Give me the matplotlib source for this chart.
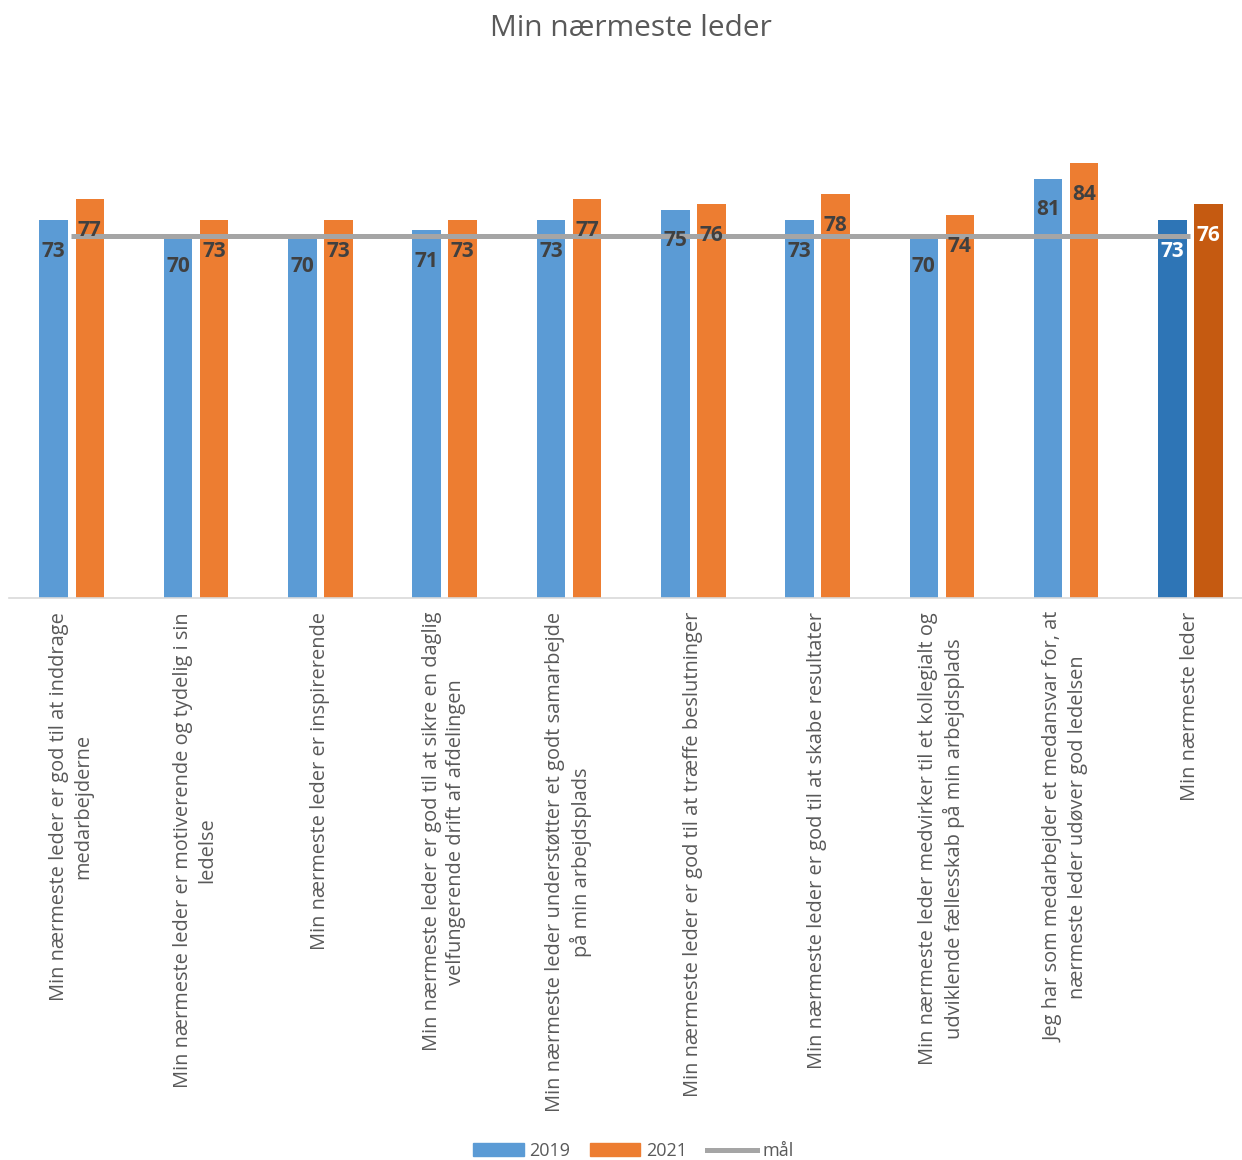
import numpy as np
import matplotlib
matplotlib.use("Agg")
import matplotlib.pyplot as plt
from matplotlib.patches import Patch
from matplotlib.lines import Line2D

plt.rcParams['font.family'] = ['Open Sans', 'DejaVu Sans']

# data
kategorier = [
    "Min nærmeste leder er god til at inddrage\nmedarbejderne",
    "Min nærmeste leder er motiverende og tydelig i sin\nledelse",
    "Min nærmeste leder er inspirerende",
    "Min nærmeste leder er god til at sikre en daglig\nvelfungerende drift af afdelingen",
    "Min nærmeste leder understøtter et godt samarbejde\npå min arbejdsplads",
    "Min nærmeste leder er god til at træffe beslutninger",
    "Min nærmeste leder er god til at skabe resultater",
    "Min nærmeste leder medvirker til et kollegialt og\nudviklende fællesskab på min arbejdsplads",
    "Jeg har som medarbejder et medansvar for, at\nnærmeste leder udøver god ledelsen",
    "Min nærmeste leder",
]
v2019 = [73, 70, 70, 71, 73, 75, 73, 70, 81, 73]
v2021 = [77, 73, 73, 73, 77, 76, 78, 74, 84, 76]
maal = [70, 70, 70, 70, 70, 70, 70, 70, 70, 70]

blaa = "#5B9BD5"
orange = "#ED7D31"
blaa_mork = "#2E75B6"
orange_mork = "#C55A11"
graa = "#A5A5A5"
tekst = "#595959"
label_farve = "#404040"

fig = plt.figure(figsize=(12.42, 11.6), dpi=100)
# plot area runs a little past the right edge, as in the original
ax = fig.add_axes([9 / 1242, (1160 - 598) / 1160, 1243 / 1242, 466 / 1160])

x = np.arange(len(kategorier))
bw = 0.23
farver_19 = [blaa] * (len(x) - 1) + [blaa_mork]
farver_21 = [orange] * (len(x) - 1) + [orange_mork]

b1 = ax.bar(x - 0.14, v2019, bw, color=farver_19, zorder=2)
b2 = ax.bar(x + 0.15, v2021, bw, color=farver_21, zorder=2)
ax.plot(x, maal, color=graa, lw=3.6, zorder=3, solid_capstyle='butt')

for bars, vals in [(b1, v2019), (b2, v2021)]:
    for i, (b, v) in enumerate(zip(bars, vals)):
        c = "white" if i == len(vals) - 1 else label_farve
        ax.annotate(str(v), (b.get_x() + b.get_width() / 2, v),
                    xytext=(0, -22.5), textcoords='offset points',
                    ha='center', va='center', fontsize=15,
                    fontweight='bold', color=c, zorder=4)

ax.set_xlim(-0.5, len(x) - 0.5)
ax.set_ylim(0, 90)
ax.set_xticks(x)
ax.set_xticklabels(kategorier, rotation=90, ha='center', va='top',
                   multialignment='center', fontsize=14.4, color=tekst,
                   linespacing=1.3)
ax.tick_params(axis='x', length=0, pad=10)
ax.set_yticks([])
for s in ['top', 'right', 'left']:
    ax.spines[s].set_visible(False)
ax.spines['bottom'].set_color("#D9D9D9")
ax.spines['bottom'].set_linewidth(1.2)

fig.text(631 / 1242, 1 - 28 / 1160, "Min nærmeste leder", ha='center', va='center',
         fontsize=21.5, color=tekst)

handles = [Patch(color=blaa, label="2019"), Patch(color=orange, label="2021"),
           Line2D([0], [0], color=graa, lw=3.6, label="mål")]
fig.legend(handles=handles, loc='center', bbox_to_anchor=(0.51, 1 - 1151 / 1160),
           ncol=3, frameon=False, fontsize=13, labelcolor=tekst,
           handlelength=2.8, handleheight=0.7, handletextpad=0.3, columnspacing=1.1)

fig.savefig("out.png", dpi=100, facecolor="white")
